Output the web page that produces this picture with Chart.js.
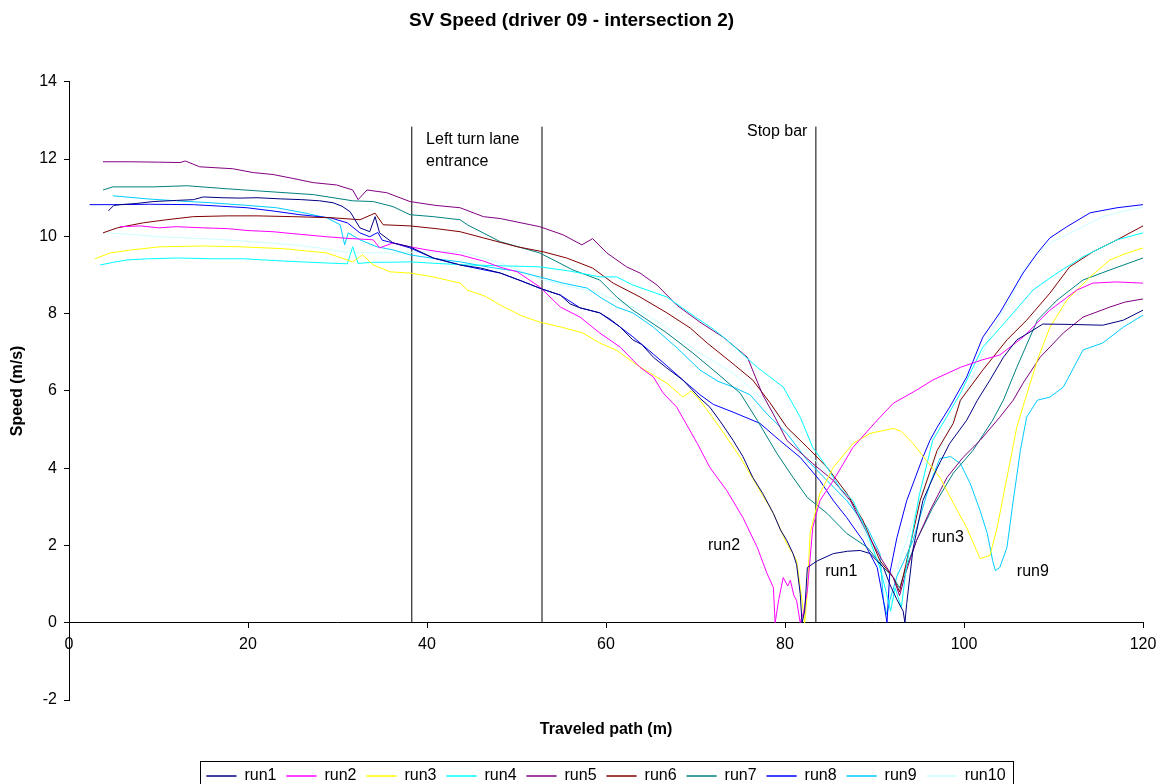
<!DOCTYPE html>
<html>
<head>
<meta charset="utf-8">
<title>SV Speed (driver 09 - intersection 2)</title>
<script src="https://cdn.jsdelivr.net/npm/chart.js"></script>
<style>
  html, body { margin: 0; padding: 0; background: #fff; }
  #wrap { width: 1161px; height: 784px; position: relative; }
</style>
</head>
<body>
<div id="wrap"><canvas id="myChart"></canvas></div>
<script>
// speed (m/s) against traveled path (m) as [x, y]
const run1 = [[4.4,10.66],[5.0,10.8],[5.7,10.82],[7.5,10.85],[9.4,10.9],[12,10.93],[13.9,10.95],[15.0,11.02],[17,11.0],[19.1,10.99],[21,11.0],[23.6,10.97],[26,10.95],[28,10.92],[29.5,10.87],[30.5,10.78],[31.4,10.64],[32.5,10.22],[33.6,10.12],[34.2,10.51],[34.7,10.09],[36.2,9.83],[38.1,9.73],[40.7,9.44],[43.7,9.26],[46,9.18],[48.2,9.05],[50.5,8.85],[52.8,8.64],[54.9,8.48],[56,8.25],[57.1,8.15],[59.3,8.02],[60.5,7.85],[61.6,7.65],[63.0,7.32],[64,7.2],[65.3,6.87],[66.8,6.59],[68.6,6.28],[70.5,5.81],[71.6,5.58],[72.8,5.2],[74.2,4.72],[75.3,4.3],[76.4,3.76],[77.5,3.35],[78.7,2.83],[79.5,2.4],[80.2,2.13],[80.9,1.79],[81.3,1.5],[81.7,0.75],[81.9,0],[82.2,0.3],[82.5,1.43],[83.6,1.6],[85.4,1.79],[87,1.85],[88.4,1.87],[89.5,1.79],[91,1.43],[91.7,1.0],[92.5,0.6],[93.2,0.3],[93.4,0],[93.6,0.5],[94.3,1.9],[95.4,3.16],[97,4.0],[98.4,4.64],[100.3,5.24],[101.5,5.76],[102.9,6.28],[104.4,6.87],[105.9,7.32],[107.7,7.57],[108.8,7.73],[112,7.72],[115.5,7.7],[117.8,7.83],[120,8.09]];
const run2 = [[5.7,10.25],[8,10.27],[10,10.22],[12,10.25],[15,10.22],[17.7,10.2],[20,10.15],[22.8,10.12],[25,10.07],[28.8,9.99],[31,9.95],[34,9.91],[34.7,9.7],[36.2,9.83],[38.1,9.73],[40,9.65],[43.7,9.52],[46.3,9.36],[48.2,9.2],[50.1,9.08],[52.6,8.69],[54.9,8.17],[57.1,7.91],[59.3,7.5],[61.6,7.13],[63.8,6.61],[65.3,6.36],[66.4,5.94],[67.9,5.58],[70.2,4.64],[71.6,4.02],[73.5,3.42],[75.3,2.72],[76.9,1.95],[78.0,1.27],[78.7,0.91],[78.9,0],[79.3,0.6],[79.8,1.17],[80.3,0.95],[80.6,1.1],[81.0,0.7],[81.3,0.57],[81.7,0],[82.1,0.3],[82.5,0.83],[83.1,2.46],[83.9,3.16],[85.4,3.68],[87.6,4.54],[90.3,5.24],[92.1,5.68],[94.7,6.02],[96.5,6.28],[99.6,6.61],[102,6.8],[104,6.93],[106.6,7.39],[109.6,8.09],[112.6,8.61],[114.4,8.79],[117,8.82],[120,8.79]];
const run3 = [[2.9,9.42],[4.6,9.57],[7,9.65],[10.2,9.73],[15,9.75],[19.1,9.73],[24,9.68],[28.8,9.57],[31.7,9.34],[32.8,9.52],[34,9.26],[35.9,9.08],[38.1,9.05],[40.7,8.95],[43.7,8.79],[44.5,8.61],[46.5,8.45],[48.2,8.22],[50.5,7.95],[52.6,7.78],[55,7.65],[57.4,7.5],[59.3,7.24],[61.2,7.05],[63.0,6.74],[65,6.45],[66.8,6.2],[68.6,5.84],[69.5,6.0],[70.5,5.76],[72.7,5.06],[75,4.28],[77.2,3.42],[78.7,2.83],[80.2,2.05],[81.3,1.61],[81.9,0.57],[82.2,0],[82.5,0.8],[82.8,2.31],[83.9,3.35],[85.4,4.02],[87.6,4.64],[89.5,4.9],[92.1,5.03],[93,4.95],[94.3,4.64],[95.8,4.2],[97.3,3.76],[98.8,3.1],[100.3,2.46],[101.8,1.66],[102.9,1.74],[103.7,2.46],[104.8,3.76],[105.9,5.06],[106.6,5.6],[108.2,6.8],[109.6,7.65],[111.5,8.35],[114.1,8.95],[116.3,9.39],[118,9.55],[120,9.7]];
const run4 = [[3.5,9.26],[5,9.33],[6.5,9.39],[9,9.42],[12.1,9.44],[16,9.42],[19.4,9.42],[24,9.36],[28.8,9.31],[31.1,9.29],[31.7,9.73],[32.3,9.3],[34,9.33],[36,9.33],[38.1,9.34],[41,9.3],[44.5,9.26],[48,9.24],[52.6,9.21],[56,9.1],[59.3,8.95],[61.2,8.95],[63,8.74],[66.8,8.43],[70.5,7.83],[72,7.6],[73.5,7.32],[76.9,6.61],[79.8,6.1],[81.7,5.32],[83.1,4.54],[84.7,4.02],[86.1,3.5],[87.6,3.16],[89.2,2.31],[90.6,1.43],[91.3,0.8],[91.8,0.3],[92.3,0.9],[93,0.4],[93.6,1.5],[95,3.3],[96.5,4.72],[98,5.3],[99.6,5.94],[102.1,7.13],[104.8,7.83],[107.7,8.61],[110.4,9.05],[113.3,9.47],[117.1,9.91],[120,10.09]];
const run5 = [[3.8,11.93],[6.8,11.93],[10,11.92],[12.4,11.91],[13,11.95],[14.6,11.8],[18.3,11.75],[20.6,11.65],[22.8,11.6],[25,11.5],[27.3,11.39],[29.9,11.33],[31.7,11.2],[32.3,10.95],[33.3,11.2],[35.5,11.13],[38.1,10.9],[41,10.8],[43.7,10.74],[46.3,10.51],[48.2,10.46],[50.5,10.35],[52.6,10.25],[55.2,10.04],[57.3,9.78],[58.5,9.94],[60.1,9.57],[62.3,9.21],[63.8,9.05],[65.7,8.74],[67.9,8.22],[70.5,7.78],[73.1,7.39],[75.8,6.87],[77.5,5.9],[78.7,5.4],[80.2,4.72],[83.1,4.12],[85.4,3.68],[87.3,3.16],[89.2,2.31],[90.9,1.6],[92.1,1.17],[92.8,0.7],[93.5,1.3],[94.7,2.13],[96.2,2.9],[98.1,3.76],[99.9,4.28],[101.8,4.72],[104,5.32],[105.5,5.76],[106.6,6.2],[108.5,6.87],[111.1,7.5],[113.3,7.91],[116.3,8.17],[118,8.3],[120,8.38]];
const run6 = [[3.8,10.09],[5.4,10.22],[8.3,10.35],[10.9,10.43],[13.9,10.51],[17.7,10.53],[21,10.53],[25,10.51],[29.5,10.48],[32.5,10.43],[34.2,10.6],[35.1,10.3],[38.1,10.27],[41,10.2],[43.7,10.12],[46.3,9.96],[50.1,9.73],[53,9.6],[55.6,9.44],[58.5,9.18],[60.8,8.79],[63.8,8.43],[66.8,8.02],[69.4,7.63],[71.3,7.24],[74.2,6.7],[76.4,6.28],[78.3,5.7],[80.2,5.06],[82.5,4.54],[84.7,4.02],[86.9,3.35],[88.7,2.65],[90.6,1.61],[92.1,1.17],[92.8,0.8],[93.5,1.5],[95.1,3.16],[97,4.46],[98.8,5.16],[99.6,5.76],[102.1,6.54],[104.8,7.32],[107,7.83],[109.6,8.53],[111.8,9.21],[114.4,9.6],[117.1,9.91],[120,10.27]];
const run7 = [[3.8,11.2],[4.9,11.28],[9.4,11.28],[13.2,11.31],[17.7,11.23],[22.8,11.15],[27.3,11.08],[31.7,10.92],[34,10.9],[36.2,10.77],[38.1,10.56],[40.7,10.51],[43.7,10.43],[44.5,10.3],[48.2,9.86],[52.6,9.57],[56.3,9.13],[59.3,8.87],[61.2,8.43],[63,8.09],[66.8,7.5],[69.7,6.98],[72.4,6.46],[74.2,6.1],[75,5.94],[76.9,5.24],[79.1,4.38],[80.9,3.76],[82.5,3.24],[84.7,2.83],[86.9,2.31],[89.2,1.95],[91,1.43],[92.1,1.17],[92.8,0.9],[93.5,1.4],[94.7,2.13],[96.5,2.98],[98.8,3.87],[101,4.46],[103.2,5.24],[104.4,5.76],[105.9,6.61],[108.2,7.83],[110.4,8.35],[113.3,8.87],[116.3,9.13],[120,9.44]];
const run8 = [[2.3,10.82],[5,10.82],[9,10.83],[13.9,10.82],[17,10.78],[19.9,10.74],[23,10.65],[25.8,10.56],[29.2,10.48],[31.1,10.35],[32.5,10.09],[33.6,9.99],[34.5,10.1],[35,9.9],[36.2,9.83],[38.1,9.7],[40.7,9.44],[43.7,9.26],[46,9.15],[48.2,9.05],[50.5,8.85],[52.8,8.64],[54.9,8.48],[57.1,8.15],[59.3,8.02],[61.6,7.65],[63.0,7.4],[65.3,6.95],[66.8,6.65],[68.6,6.28],[70.5,5.9],[72,5.65],[74.2,5.45],[77.2,5.16],[79.4,4.72],[81.7,4.28],[83.9,3.68],[85.4,3.16],[86.9,2.72],[88.7,2.13],[90.3,1.43],[91,0.57],[91.4,0],[91.7,1.27],[92.5,2.2],[93.6,3.16],[95.4,4.28],[96.2,4.72],[97,5.06],[98.4,5.58],[100.3,6.36],[102.1,7.39],[104,8.02],[106.6,9.05],[108.2,9.57],[109.6,9.96],[111.5,10.25],[114.1,10.61],[117.1,10.74],[120,10.82]];
const run9 = [[4.9,11.05],[8.7,10.97],[12,10.92],[15.8,10.87],[20,10.8],[23.2,10.74],[26,10.62],[28.8,10.48],[30.3,10.3],[30.8,9.78],[31.2,10.09],[32.5,9.91],[34.4,9.73],[36.2,9.65],[38.1,9.52],[41,9.42],[43.7,9.34],[47,9.2],[50,9.1],[52.6,8.95],[55,8.8],[57.9,8.66],[59.5,8.4],[61.2,8.17],[63,8.02],[65.3,7.65],[68,7.1],[70.5,6.54],[72.5,6.25],[74.2,6.1],[76.1,5.9],[78,5.4],[80.2,4.9],[82.5,4.2],[84.7,3.68],[86.9,3.16],[89.2,2.46],[90.6,1.79],[91,0.57],[91.4,0.2],[91.7,0.57],[92.5,1.2],[93.3,1.6],[94.3,2.13],[96.2,3.6],[97.3,4.25],[98.5,4.3],[99.6,4.12],[100.7,3.6],[101.8,2.9],[102.6,2.31],[103.2,1.61],[103.5,1.35],[104,1.43],[104.8,1.95],[105.5,3.16],[106.3,4.46],[107,5.32],[108.2,5.76],[109.6,5.84],[111.1,6.1],[113.3,7.06],[115.5,7.24],[117.8,7.65],[120,7.96]];
const run10 = [[4.2,10.09],[7,10.05],[10.2,9.99],[14,9.95],[17.7,9.91],[21,9.85],[25,9.78],[28,9.7],[30.6,9.6],[33,9.58],[36.2,9.57],[40,9.6],[43.7,9.6],[46,9.45],[48.2,9.31],[50.5,9.1],[53,8.87],[56,8.7],[59.3,8.53],[61,8.35],[63,8.17],[65,7.9],[66.8,7.65],[68.5,7.3],[70.5,6.98],[72.5,6.7],[74.2,6.46],[76,6.1],[77.2,5.84],[78.8,5.45],[80.2,5.06],[81.7,4.65],[83.1,4.28],[85.4,3.68],[87.6,2.98],[89.8,1.87],[91.4,1.0],[92,0.5],[92.8,1.6],[94,2.4],[95,3.16],[96.5,4.1],[98.1,4.9],[100,5.9],[101.8,6.8],[103,7.5],[104.4,8.09],[105.1,8.3],[106.6,9.13],[108,9.5],[109.6,9.83],[112.6,10.17],[115.5,10.51],[117.8,10.65],[120,10.75]];

const runNames = ["run1", "run2", "run3", "run4", "run5", "run6", "run7", "run8", "run9", "run10"];
const runColors = ["#000080", "#FF00FF", "#FFFF00", "#00FFFF", "#800080", "#800000", "#008080", "#0000FF", "#00CCFF", "#CCFFFF"];
const runs = [run1, run2, run3, run4, run5, run6, run7, run8, run9, run10];

// reference lines: left turn lane entrance (two edges) and stop bar
const markerX = [38.3, 52.85, 83.45];
const markerTop = 12.84;

// free text on the plot, in data units (left edge, vertical middle)
const notes = [
  { text: "Left turn lane", x: 39.9, y: 12.5 },
  { text: "entrance", x: 39.9, y: 11.93 },
  { text: "Stop bar", x: 75.75, y: 12.71 },
  { text: "run2", x: 71.4, y: 2.0 },
  { text: "run1", x: 84.5, y: 1.32 },
  { text: "run3", x: 96.4, y: 2.21 },
  { text: "run9", x: 105.9, y: 1.32 }
];

Chart.defaults.font.family = '"Liberation Sans", Arial, sans-serif';
Chart.defaults.color = "#000";

const datasets = runs.map((r, i) => ({
  label: runNames[i],
  data: r.map(p => ({ x: p[0], y: p[1] })),
  borderColor: runColors[i],
  backgroundColor: runColors[i],
  borderWidth: 1,
  pointRadius: 0,
  showLine: true,
  tension: 0
}));
markerX.forEach(mx => {
  datasets.push({
    label: "marker",
    data: [{ x: mx, y: 0 }, { x: mx, y: markerTop }],
    borderColor: "#000",
    backgroundColor: "#000",
    borderWidth: 1,
    pointRadius: 0,
    showLine: true
  });
});

const notePlugin = {
  id: "notes",
  afterDatasetsDraw(chart) {
    const ctx = chart.ctx;
    const xs = chart.scales.x, ys = chart.scales.y;
    ctx.save();
    ctx.font = '16px "Liberation Sans", Arial, sans-serif';
    ctx.fillStyle = "#000";
    ctx.textAlign = "left";
    ctx.textBaseline = "middle";
    notes.forEach(n => ctx.fillText(n.text, xs.getPixelForValue(n.x), ys.getPixelForValue(n.y)));
    ctx.restore();
  },
  afterDraw(chart) {
    // border round the legend, like the original
    const hb = chart.legend.legendHitBoxes;
    if (!hb || !hb.length) return;
    const last = hb[hb.length - 1];
    const left = Math.round(hb[0].left - 6) + 0.5;
    const right = Math.round(last.left + last.width + 7) + 0.5;
    const top = Math.round(hb[0].top - 7) + 0.5;
    const ctx = chart.ctx;
    ctx.save();
    ctx.strokeStyle = "#000";
    ctx.lineWidth = 1;
    ctx.strokeRect(left, top, right - left, chart.height + 5 - top);
    ctx.restore();
  }
};

new Chart(document.getElementById("myChart"), {
  type: "scatter",
  data: { datasets: datasets },
  options: {
    responsive: true,
    maintainAspectRatio: false,
    animation: false,
    layout: { padding: { left: 0, right: 18, top: 0, bottom: -10 } },
    plugins: {
      title: {
        display: true,
        text: "SV Speed (driver 09 - intersection 2)",
        font: { size: 19, weight: "bold" },
        color: "#000",
        padding: { top: 9, bottom: 50 }
      },
      legend: {
        position: "bottom",
        fullSize: false,
        labels: {
          font: { size: 16 },
          color: "#000",
          boxWidth: 30,
          boxHeight: 0,
          padding: 10,
          filter: item => item.datasetIndex < runNames.length
        }
      },
      tooltip: { enabled: false }
    },
    scales: {
      x: {
        type: "linear",
        position: { y: 0 },
        min: 0,
        max: 120,
        ticks: { stepSize: 20, font: { size: 16 }, color: "#000", padding: 7 },
        grid: { drawOnChartArea: false, drawTicks: true, tickLength: 5, color: "#000" },
        border: { display: true, color: "#000", width: 1 },
        afterFit: s => { s.paddingLeft = 0; s.paddingRight = 0; }
      },
      xTitle: {
        type: "linear",
        position: "bottom",
        axis: "x",
        min: 0,
        max: 120,
        ticks: { display: false },
        grid: { display: false, drawTicks: false },
        border: { display: false },
        title: {
          display: true,
          text: "Traveled path (m)",
          font: { size: 16, weight: "bold" },
          color: "#000",
          padding: { top: 19, bottom: 19 }
        },
        afterFit: s => { s.height = 58; s.paddingLeft = 0; s.paddingRight = 0; }
      },
      y: {
        type: "linear",
        position: "left",
        min: -2,
        max: 14,
        ticks: { stepSize: 2, font: { size: 16 }, color: "#000", padding: 7 },
        grid: { drawOnChartArea: false, drawTicks: true, tickLength: 5, color: "#000" },
        border: { display: true, color: "#000", width: 1 },
        title: {
          display: true,
          text: "Speed (m/s)",
          font: { size: 16, weight: "bold" },
          color: "#000",
          padding: { top: 8, bottom: 0 }
        },
        afterFit: s => { s.width = 69; }
      }
    }
  },
  plugins: [notePlugin]
});
</script>
</body>
</html>
